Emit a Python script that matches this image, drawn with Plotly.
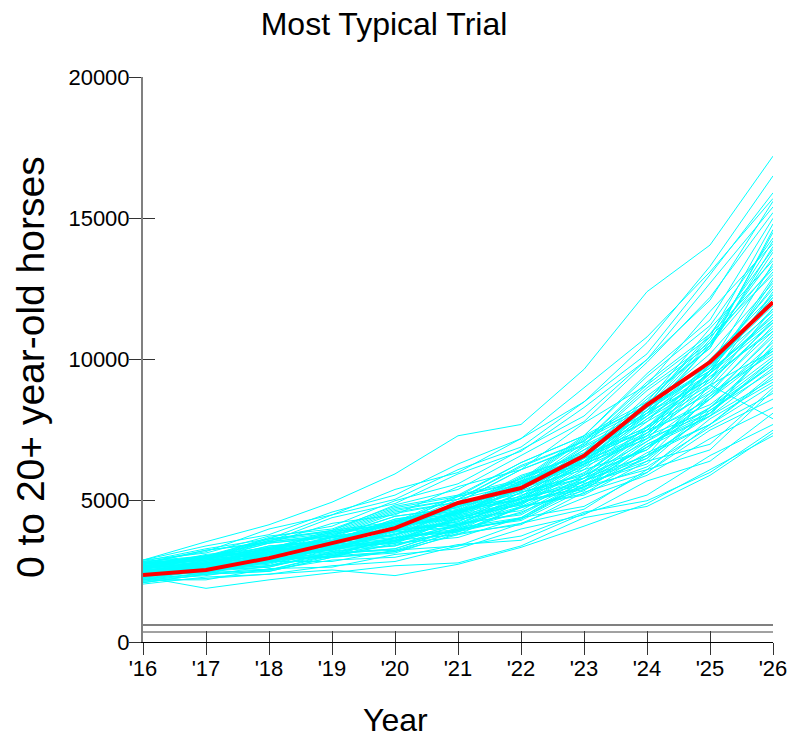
import plotly.graph_objects as go

years = [2016, 2017, 2018, 2019, 2020, 2021, 2022, 2023, 2024, 2025, 2026]
year_labels = ["'16", "'17", "'18", "'19", "'20", "'21", "'22", "'23", "'24", "'25", "'26"]
y_ticks = [0, 5000, 10000, 15000, 20000]
y_tick_labels = ["0", "5000", "10000", "15000", "20000"]

# Most typical trial (red)
typical_trial = [2370, 2550, 2970, 3500, 4030, 4920, 5450, 6590, 8390, 9910, 12030]

# All simulated trials (cyan), one list per trial, values for '16 .. '26
low_trials = [
    [2300, 1900, 2200, 2450, 2700, 2800, 3400, 4400, 4800, 5900, 7400],
    [2150, 2250, 2400, 2550, 2350, 2750, 3350, 4100, 4900, 6100, 7300],
    [2400, 2650, 2550, 2900, 3000, 3450, 3600, 4550, 5200, 6600, 7700],
    [2200, 2200, 2600, 2650, 3100, 3300, 4000, 4500, 5700, 6400, 8100],
    [2600, 2800, 2850, 3300, 3400, 4000, 4300, 5400, 6200, 7600, 8800],
    [2100, 2400, 2500, 3000, 3200, 3800, 4200, 5100, 5900, 7200, 8300],
    [2500, 2500, 2950, 3000, 3500, 3700, 4400, 4800, 6000, 7500, 8600],
    [2350, 2500, 2650, 3150, 3250, 3900, 4400, 5700, 6600, 9100, 7900],
    [2050, 2300, 2400, 2700, 2850, 3400, 3750, 4600, 5000, 6000, 7500],
    [2450, 2450, 2850, 2850, 3250, 3400, 4200, 4700, 6100, 6800, 8900],
]
midlow_trials = [
    [2700, 2800, 3200, 3250, 3700, 3900, 4800, 5200, 6400, 7000, 9000],
    [2250, 2550, 2650, 3200, 3400, 4150, 4550, 5800, 6600, 8000, 9300],
    [2400, 2600, 3000, 3100, 3700, 4000, 4950, 5400, 6700, 7700, 9500],
    [2300, 2600, 2700, 3150, 3300, 4050, 4400, 5600, 6400, 8300, 9800],
    [2550, 2600, 3050, 3200, 3850, 4100, 5050, 5650, 7200, 8100, 10000],
    [2150, 2450, 2550, 3050, 3200, 3950, 4350, 5600, 6300, 8200, 9600],
    [2650, 2750, 3100, 3250, 3950, 4200, 5100, 5550, 7100, 8300, 10400],
    [2350, 2650, 2800, 3350, 3550, 4350, 4650, 5900, 6800, 8800, 10200],
    [2450, 2500, 2950, 3050, 3700, 3900, 4750, 5350, 6900, 8000, 10700],
    [2200, 2450, 2550, 3100, 3300, 4000, 4350, 5500, 6100, 7900, 9200],
    [2500, 2700, 3150, 3300, 3950, 4150, 5200, 5800, 7400, 8600, 10600],
    [2800, 2950, 3300, 3350, 3950, 4150, 5100, 5700, 7300, 8200, 9800],
    [2300, 2700, 2850, 3400, 3600, 4400, 4850, 6100, 6800, 8600, 10900],
    [2600, 2750, 3250, 3400, 4100, 4350, 5300, 5800, 7500, 8400, 10100],
    [2100, 2400, 2500, 3000, 3150, 3850, 4150, 5300, 6000, 7700, 9100],
    [2450, 2600, 3100, 3250, 3900, 4050, 5000, 5450, 7000, 8100, 10500],
    [2750, 3050, 3150, 3700, 3900, 4650, 5050, 6300, 7200, 9100, 10300],
    [2350, 2450, 2900, 3050, 3700, 3950, 4950, 5500, 7000, 8000, 9700],
    [2550, 2750, 2850, 3350, 3500, 4200, 4500, 5700, 6500, 8700, 10800],
    [2250, 2400, 2900, 3000, 3600, 3800, 4800, 5250, 6600, 7700, 9400],
]
mid_trials = [
    [2500, 2900, 3000, 3550, 3800, 4650, 5050, 6400, 7300, 9400, 11000],
    [2350, 2550, 3100, 3300, 4000, 4250, 5300, 5900, 7600, 8800, 11200],
    [2700, 3000, 3150, 3700, 3950, 4800, 5250, 6600, 7500, 9600, 11500],
    [2450, 2650, 3200, 3400, 4100, 4400, 5450, 6100, 7800, 9100, 11800],
    [2600, 2950, 3100, 3750, 4000, 4850, 5350, 6800, 7800, 9900, 12000],
    [2300, 2500, 3050, 3250, 3950, 4250, 5300, 5950, 7650, 9000, 11400],
    [2800, 2950, 3500, 3700, 4450, 4750, 5800, 6500, 8300, 9600, 12200],
    [2400, 2800, 2950, 3550, 3800, 4700, 5150, 6600, 7600, 9800, 11700],
    [2550, 2700, 3250, 3450, 4150, 4500, 5600, 6300, 8100, 9300, 12400],
    [2200, 2550, 2700, 3300, 3500, 4400, 4850, 6200, 7200, 9300, 11100],
    [2650, 2850, 3400, 3600, 4350, 4650, 5700, 6400, 8200, 9700, 12600],
    [2350, 2700, 2850, 3450, 3650, 4550, 5050, 6500, 7500, 9800, 12100],
    [2750, 2900, 3400, 3550, 4250, 4550, 5600, 6300, 8100, 9500, 11300],
    [2450, 2800, 2950, 3550, 3750, 4650, 5150, 6600, 7600, 9500, 12800],
    [2600, 2800, 3350, 3550, 4300, 4600, 5700, 6500, 8400, 9800, 11900],
    [2300, 2650, 2800, 3400, 3600, 4500, 4950, 6400, 7400, 9600, 12300],
    [2500, 2650, 3200, 3400, 4100, 4450, 5500, 6250, 8000, 9300, 11600],
    [2850, 3000, 3550, 3750, 4450, 4750, 5900, 6600, 8500, 9900, 12500],
    [2400, 2750, 2900, 3500, 3700, 4600, 5100, 6500, 7500, 9600, 11400],
    [2650, 2750, 3300, 3500, 4200, 4500, 5600, 6350, 8200, 9600, 12900],
    [2200, 2600, 2750, 3350, 3550, 4450, 4900, 6300, 7300, 9500, 11800],
    [2550, 2750, 3300, 3500, 4250, 4550, 5650, 6400, 8300, 9700, 12200],
    [2400, 2600, 2900, 3300, 3650, 4300, 4900, 5900, 7100, 8700, 10400],
    [2650, 2900, 3200, 3500, 4000, 4550, 5350, 6200, 7900, 9200, 11300],
    [2300, 2500, 2800, 3150, 3600, 4150, 4800, 5800, 6900, 8600, 10300],
    [2750, 3050, 3350, 3800, 4250, 4900, 5600, 6800, 8300, 10200, 12700],
    [2500, 2650, 3000, 3350, 3800, 4350, 5050, 6000, 7400, 8900, 11000],
    [2200, 2350, 2700, 3050, 3450, 3950, 4600, 5500, 6500, 8100, 9900],
    [2600, 2850, 3150, 3600, 4000, 4600, 5400, 6400, 7900, 9500, 11600],
    [2350, 2550, 2850, 3200, 3550, 4100, 4750, 5700, 6900, 8300, 10000],
    [2700, 2950, 3300, 3700, 4150, 4800, 5550, 6650, 8100, 10000, 12300],
]
midhigh_trials = [
    [2600, 3050, 3250, 3900, 4150, 5150, 5650, 7200, 8400, 10800, 13000],
    [2750, 2950, 3550, 3800, 4600, 4950, 6100, 7000, 9000, 10600, 13300],
    [2450, 2900, 3100, 3750, 4000, 4950, 5500, 7050, 8200, 10600, 13600],
    [2850, 3050, 3650, 3900, 4700, 5050, 6250, 7100, 9200, 10900, 13900],
    [2550, 3000, 3200, 3850, 4100, 5050, 5600, 7150, 8300, 10700, 14200],
    [2700, 2900, 3500, 3750, 4550, 4950, 6100, 6950, 8900, 10500, 14500],
    [2400, 2850, 3050, 3700, 3950, 4900, 5450, 6950, 8100, 10500, 13100],
    [2800, 3000, 3600, 3850, 4650, 5050, 6200, 7100, 9100, 10800, 14800],
    [2650, 3100, 3300, 3950, 4250, 5200, 5750, 7300, 8500, 11100, 13500],
    [2500, 2750, 3350, 3600, 4350, 4700, 5850, 6700, 8700, 10400, 14000],
    [2900, 3150, 3750, 4000, 4800, 5200, 6350, 7300, 9400, 11200, 14300],
    [2350, 2800, 3000, 3650, 3900, 4850, 5400, 6900, 8000, 10500, 13800],
    [2750, 3000, 3650, 3950, 4750, 5150, 6350, 7300, 9500, 11400, 15000],
    [2600, 3050, 3250, 3900, 4200, 5150, 5700, 7250, 8400, 10900, 13200],
    [2450, 2700, 3300, 3550, 4300, 4650, 5800, 6650, 8600, 10400, 14600],
    [2800, 3250, 3500, 4200, 4500, 5500, 6100, 7750, 9100, 11700, 14100],
    [2450, 2750, 3100, 3500, 4000, 4600, 5400, 6500, 8000, 9800, 13400],
]
high_trials = [
    [2900, 3550, 4150, 4950, 5950, 7300, 7700, 9650, 12400, 14050, 17200],
    [2800, 3200, 4000, 4500, 5400, 6000, 7200, 8500, 10600, 13300, 16500],
    [2850, 3300, 3650, 4500, 5050, 6100, 6900, 8500, 10200, 13000, 15900],
    [2700, 3000, 3700, 4100, 5000, 5600, 6800, 8000, 10000, 12100, 15600],
    [2750, 3250, 3550, 4400, 4900, 5950, 6750, 8300, 10000, 12700, 15400],
    [2650, 2950, 3600, 3950, 4850, 5400, 6600, 7800, 9900, 12200, 15200],
    [2900, 3400, 3800, 4600, 5200, 6300, 7200, 9000, 10800, 13100, 15700],
]

all_trials = low_trials + midlow_trials + mid_trials + midhigh_trials + high_trials

font_family = "Liberation Sans, Arial, sans-serif"
fig_w, fig_h = 789, 738

fig = go.Figure()
for trial in all_trials:
    fig.add_trace(go.Scatter(x=years, y=trial, mode="lines",
                             line=dict(color="#00FFFF", width=1),
                             hoverinfo="skip", showlegend=False))
fig.add_trace(go.Scatter(x=years, y=typical_trial, mode="lines",
                         line=dict(color="#FF0000", width=4),
                         showlegend=False, name="Most typical"))
# empty trace to activate the overlay axes (used for inward half of crossing ticks)
fig.add_trace(go.Scatter(x=[], y=[], xaxis="x2", yaxis="y2", showlegend=False))

fig.update_layout(
    width=fig_w, height=fig_h,
    margin=dict(l=143, r=16, t=77, b=96, autoexpand=False),
    paper_bgcolor="white", plot_bgcolor="white",
    font=dict(family=font_family, color="black"),
    title=dict(text="Most Typical Trial", font=dict(size=32, family=font_family),
               x=384 / fig_w, xref="container", xanchor="center",
               y=1 - 24 / fig_h, yref="container", yanchor="middle"),
    xaxis=dict(range=[years[0], years[-1]], tickvals=years, ticktext=year_labels,
               ticks="outside", ticklen=12, tickwidth=1, tickcolor="#333333",
               showline=True, linecolor="black", linewidth=1,
               showgrid=False, zeroline=False, automargin=False,
               ticklabelstandoff=-5, ticklabeloverflow="allow",
               tickfont=dict(size=22, family=font_family)),
    yaxis=dict(range=[0, 20000], tickvals=y_ticks, ticktext=y_tick_labels,
               ticks="outside", ticklen=12, tickwidth=1, tickcolor="#333333",
               showline=True, linecolor="#808080", linewidth=2,
               showgrid=False, zeroline=False, automargin=False,
               ticklabelstandoff=-5,
               tickfont=dict(size=22, family=font_family)),
    xaxis2=dict(range=[years[0], years[-1]], tickvals=years, overlaying="x", anchor="y",
                ticks="inside", ticklen=11, tickwidth=1, tickcolor="#333333",
                showticklabels=False, showgrid=False, zeroline=False, showline=False),
    yaxis2=dict(range=[0, 20000], tickvals=y_ticks, overlaying="y", anchor="x",
                ticks="inside", ticklen=12, tickwidth=1, tickcolor="#333333",
                showticklabels=False, showgrid=False, zeroline=False, showline=False),
    shapes=[
        dict(type="line", xref="paper", yref="y", x0=0, x1=1, y0=600, y1=600,
             line=dict(color="#808080", width=2), layer="above"),
        dict(type="line", xref="paper", yref="y", x0=0, x1=1, y0=354, y1=354,
             line=dict(color="#444444", width=1), layer="above"),
    ],
    annotations=[
        dict(text="0 to 20+ year-old horses", xref="paper", yref="paper",
             x=(30 - 143) / 630, y=(642 - 367) / 565, textangle=-90, showarrow=False,
             font=dict(size=39, family=font_family), xanchor="center", yanchor="middle"),
        dict(text="Year", xref="paper", yref="paper",
             x=(395 - 143) / 630, y=(642 - 720) / 565, showarrow=False,
             font=dict(size=32, family=font_family), xanchor="center", yanchor="middle"),
    ],
)

# remove the default 8px page margin so the 789x738 figure fills the window exactly
fig.write_html("out.html", config={"displayModeBar": False},
               post_script="document.body.style.margin='0px';")
